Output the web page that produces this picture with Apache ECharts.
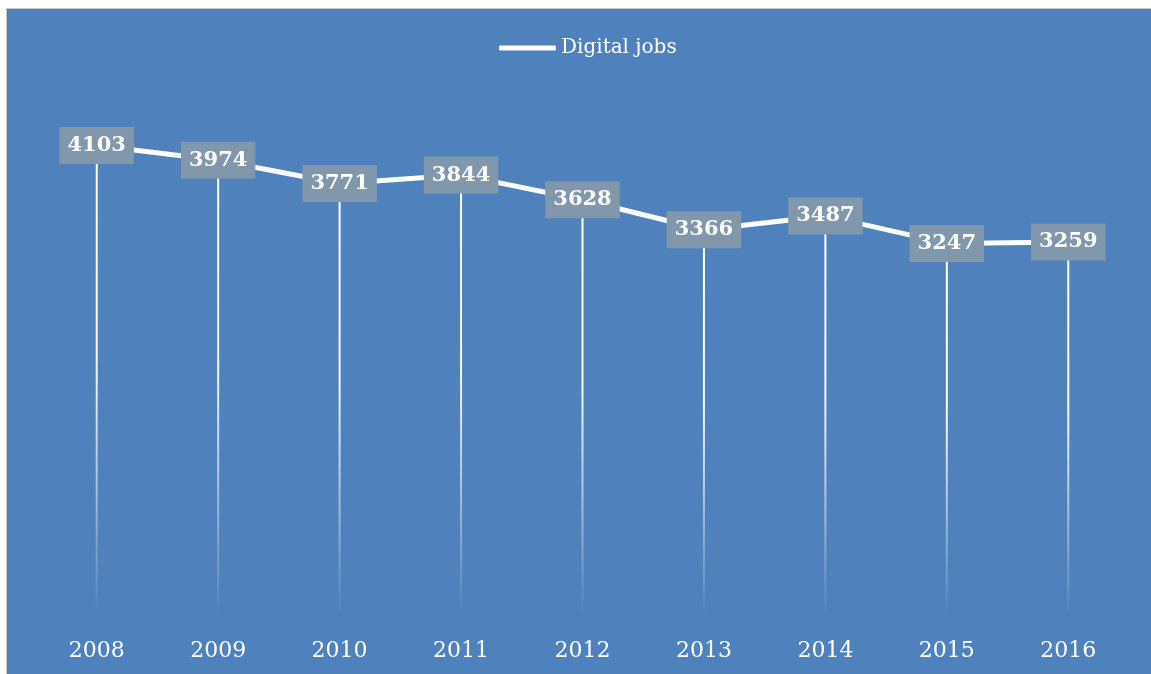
<!DOCTYPE html>
<html>
<head>
<meta charset="utf-8">
<script src="https://cdn.jsdelivr.net/npm/echarts@6/dist/echarts.min.js"></script>
<style>
  html, body { margin: 0; padding: 0; background: #ffffff; width: 1151px; height: 674px; overflow: hidden; }
  #frame { position: absolute; left: 6px; top: 8px; width: 1145px; height: 666px; border-left: 1px solid #c8c8c8; border-top: 1px solid #c8c8c8; background: #4f81bd; }
  #chart { width: 1145px; height: 666px; }
</style>
</head>
<body>
<div id="frame"><div id="chart"></div></div>
<script>
const years = ['2008', '2009', '2010', '2011', '2012', '2013', '2014', '2015', '2016'];
const digitalJobs = [4103, 3974, 3771, 3844, 3628, 3366, 3487, 3247, 3259];
const seriesName = 'Digital jobs';

const chart = echarts.init(document.getElementById('chart'));
chart.setOption({
  backgroundColor: '#4f81bd',
  animation: false,
  legend: {
    top: 24,
    left: 487,
    data: [{ name: seriesName, icon: 'roundRect' }],
    itemWidth: 57,
    itemHeight: 5,
    itemGap: 4,
    textStyle: { color: '#ffffff', fontFamily: 'DejaVu Serif', fontSize: 20 }
  },
  grid: { left: 29, right: 23, top: 91, bottom: 60 },
  xAxis: {
    type: 'category',
    data: years,
    boundaryGap: true,
    axisLine: { show: false },
    axisTick: { show: false },
    axisLabel: { color: '#ffffff', fontFamily: 'DejaVu Serif', fontSize: 22, margin: 25 },
    splitLine: { show: false }
  },
  yAxis: {
    type: 'value',
    min: 0,
    max: 4500,
    interval: 500,
    show: false,
    splitLine: { show: false }
  },
  series: [
    {
      name: 'drop',
      type: 'bar',
      data: digitalJobs,
      barWidth: 2,
      z: 1,
      silent: true,
      itemStyle: {
        color: new echarts.graphic.LinearGradient(0, 0, 0, 1, [
          { offset: 0, color: 'rgba(255,255,255,1)' },
          { offset: 0.45, color: 'rgba(255,255,255,0.95)' },
          { offset: 0.75, color: 'rgba(255,255,255,0.45)' },
          { offset: 1, color: 'rgba(255,255,255,0)' }
        ])
      }
    },
    {
      name: seriesName,
      type: 'line',
      data: digitalJobs,
      z: 5,
      symbol: 'circle',
      symbolSize: 1,
      showSymbol: true,
      lineStyle: { color: '#ffffff', width: 5 },
      itemStyle: { color: '#ffffff' },
      label: {
        show: true,
        position: 'inside',
        color: '#ffffff',
        fontFamily: 'DejaVu Serif',
        fontWeight: 'bold',
        fontSize: 21,
        lineHeight: 21,
        backgroundColor: '#8097ac',
        padding: [8, 8, 8, 8]
      }
    }
  ]
});
</script>
</body>
</html>
